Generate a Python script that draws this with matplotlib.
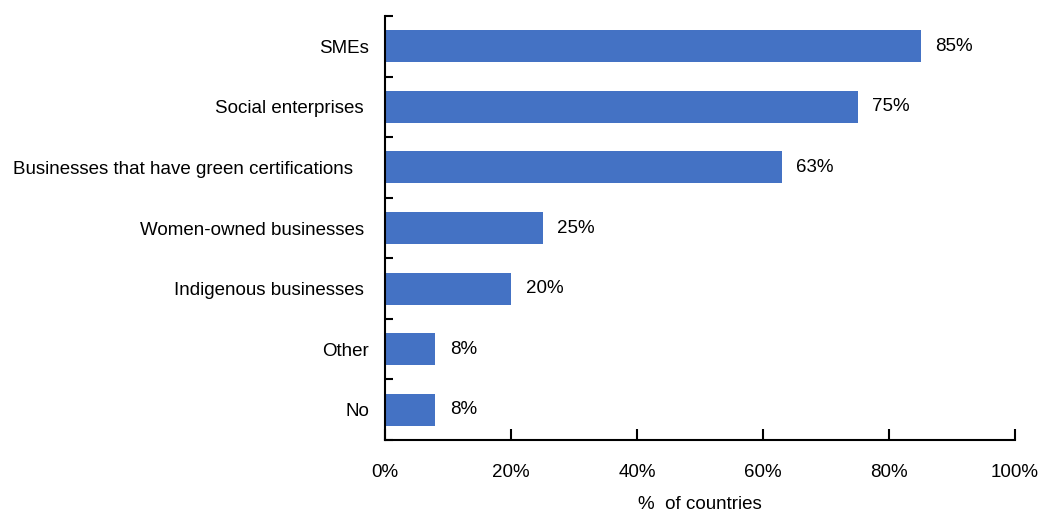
import matplotlib
matplotlib.use("Agg")
import matplotlib.pyplot as plt
from matplotlib.ticker import FixedLocator, PercentFormatter

categories = [
    "SMEs",
    "Social enterprises ",
    "Businesses that have green certifications   ",
    "Women-owned businesses ",
    "Indigenous businesses ",
    "Other",
    "No",
]
share_pct = [85, 75, 63, 25, 20, 8, 8]
x_ticks = [0, 20, 40, 60, 80, 100]

plt.rcParams["font.family"] = ["Liberation Sans", "DejaVu Sans"]

fig = plt.figure(figsize=(10.4, 5.12), dpi=100)
ax = fig.add_axes([385 / 1040, 1 - 440 / 512, 630 / 1040, 424 / 512])

n = len(categories)
pos = list(range(n))
ax.barh(pos, share_pct, height=0.53, color="#4472C4", zorder=2)

for y, v in zip(pos, share_pct):
    ax.annotate(f"{v:.0f}%", (v, y), xytext=(10.5, 0), textcoords="offset points",
                ha="left", va="center", fontsize=13.5, color="black")

ax.set_xlim(0, 100)
ax.set_ylim(n - 0.5, -0.5)
ax.xaxis.set_major_locator(FixedLocator(x_ticks))
ax.xaxis.set_major_formatter(PercentFormatter(decimals=0))

ax.set_yticks(pos)
ax.set_yticklabels(categories, fontsize=13.5)
ax.tick_params(axis="y", length=0, pad=11.5)
ax.set_yticks([p - 0.5 for p in pos] + [n - 0.5], minor=True)
ax.tick_params(axis="y", which="minor", direction="in", length=6, width=1.5)
ax.tick_params(axis="x", direction="in", length=8, width=1.5, labelsize=13.5, pad=17)

for side in ("top", "right"):
    ax.spines[side].set_visible(False)
for side in ("left", "bottom"):
    ax.spines[side].set_linewidth(1.5)

ax.set_xlabel("%  of countries", fontsize=13.5, labelpad=11)

fig.savefig("out.png", dpi=100)
